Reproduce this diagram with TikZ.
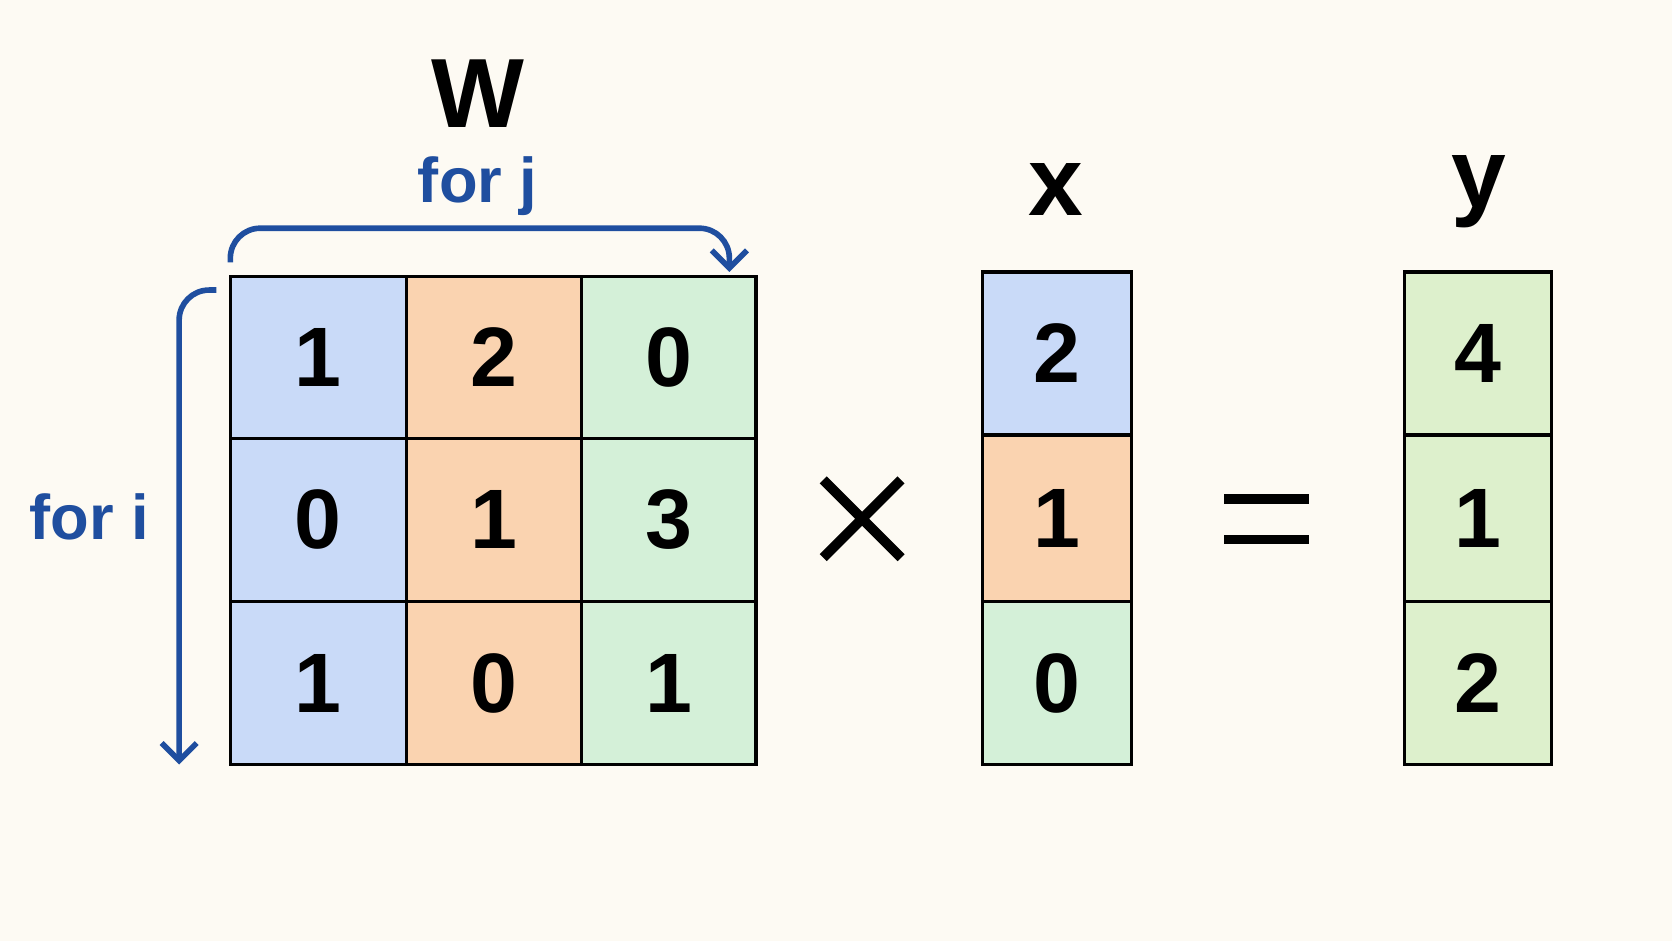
\documentclass[tikz,border=0pt]{standalone}
\usepackage{fontspec}
\setmainfont{Liberation Sans}
\usepackage{xcolor}
\definecolor{bgPaper}{HTML}{FDFAF3}
\definecolor{cellBlue}{HTML}{C9DAF8}
\definecolor{cellOrange}{HTML}{FAD3B0}
\definecolor{cellGreen}{HTML}{D4F0D8}
\definecolor{cellLime}{HTML}{DDF0CC}
\definecolor{loopBlue}{HTML}{1F4E9F}
\usetikzlibrary{arrows.meta,positioning}
\tikzset{
    cell/.style={
        draw=black,
        line width=0.9pt,
        rectangle,
        inner sep=0pt,
        font=\fontsize{24}{24}\selectfont\bfseries
    },
    title/.style={
        font=\fontsize{28}{28}\selectfont\bfseries
    },
    loop/.style={
        font=\fontsize{18}{18}\selectfont\bfseries,
        text=loopBlue
    },
    looparrow/.style={
        -{Straight Barb[length=5pt,width=10pt]},
        line width=1.6pt,
        color=loopBlue,
        rounded corners=3mm
    },
    sign/.style={
        line width=2.8pt,
        color=black
    }
}

\begin{document}
\begin{tikzpicture}[x=0.01066cm,y=-0.01066cm]
    \fill[bgPaper] (0,0) rectangle (1568,882);
    % matrix W
    \foreach \col/\xl/\xr/\shade in {1/216/381/cellBlue,2/381/545/cellOrange,3/545/709/cellGreen}
        \foreach \row/\yt/\yb in {1/259/411,2/411/564,3/564/717}
            \node[cell, fill=\shade, minimum width=(\xr-\xl)*0.01066cm, minimum height=(\yb-\yt)*0.01066cm]
                (w\row\col) at ({(\xl+\xr)/2},{(\yt+\yb)/2}) {};
    \foreach \row/\col/\val in {1/1/1,1/2/2,1/3/0,2/1/0,2/2/1,2/3/3,3/1/1,3/2/0,3/3/1}
        \node[cell, draw=none] at (w\row\col) {\val};
    % vector x
    \foreach \row/\yt/\yb/\shade/\val in {1/255/408/cellBlue/2,2/408/564/cellOrange/1,3/564/717/cellGreen/0}
        \node[cell, fill=\shade, minimum width=140*0.01066cm, minimum height=(\yb-\yt)*0.01066cm]
            (x\row) at (991,{(\yt+\yb)/2}) {\val};
    % vector y
    \foreach \row/\yt/\yb/\val in {1/255/408/4,2/408/564/1,3/564/717/2}
        \node[cell, fill=cellLime, minimum width=138*0.01066cm, minimum height=(\yb-\yt)*0.01066cm]
            (y\row) at (1386,{(\yt+\yb)/2}) {\val};
    % titles
    \node[title] (wname) at (448,88) {W};
    \node[title] (xname) at (990,178) {x};
    \node[title] (yname) at (1387,180) {y};
    % signs
    \draw[sign] (772,450) -- (845,523) (845,450) -- (772,523);
    \draw[sign] (1148,468) -- (1228,468) (1148,506) -- (1228,506);
    % loops
    \node[loop] (forj) at (448,175) {for j};
    \node[loop] (fori) at (84,485) {for i};
    \coordinate (jstart) at (216,246);
    \coordinate (jend) at (684,255);
    \coordinate (istart) at (203,272);
    \coordinate (iend) at (168,717);
    \draw[looparrow] (jstart) |- (684,214) -- (jend);
    \draw[looparrow] (istart) -| (iend);
\end{tikzpicture}
\end{document}
